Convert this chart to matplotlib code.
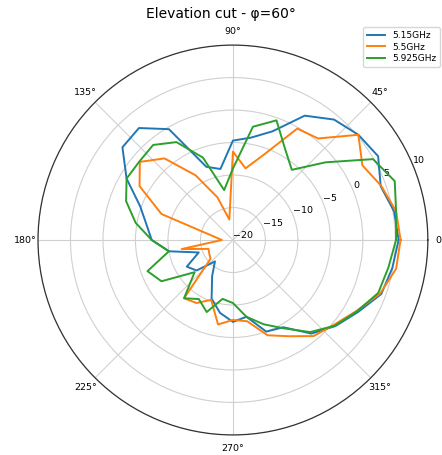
import numpy as np
import matplotlib
matplotlib.use("Agg")
import matplotlib.pyplot as plt

# Elevation cut, 10 degree steps from 0 to 350
angles_deg = list(range(0, 360, 10))

gain_515 = [5.5, 5.2, 4.2, 5.8, 5.2, 4.2, 2.1, -2.2, -4.0, -4.7,
            -8.9, -8.0, -0.3, 2.5, 2.2, -1.1, -4.8, -6.5, -7.5, -10.0,
            -14.4, -11.8, -12.7, -15.7, -13.6, -10.4, -8.6, -7.4, -8.0, -5.0,
            -4.5, -1.2, 0.6, 2.2, 4.3, 4.9]

gain_55 = [5.8, 5.5, 4.3, 3.0, 5.2, 0.4, -0.2, -6.0, -8.8, -6.4,
           -16.8, -13.0, -8.5, -3.6, -1.3, -3.4, -8.3, -17.1, -18.3, -12.0,
           -16.0, -15.8, -15.5, -8.3, -8.8, -10.2, -6.8, -7.7, -7.3, -4.4,
           -2.9, -0.7, 0.3, 1.9, 4.1, 5.5]

gain_5925 = [5.1, 5.5, 6.5, 4.9, -1.4, -5.9, -3.9, -0.4, -2.3, -9.0,
             -12.2, -6.5, -2.6, -0.9, -1.2, -1.1, -2.5, -4.8, -7.5, -10.0,
             -6.0, -7.3, -12.3, -8.3, -9.5, -8.2, -10.8, -10.3, -8.0, -6.2,
             -4.3, -1.5, 0.5, 2.0, 3.8, 4.3]

labels = ["5.15GHz", "5.5GHz", "5.925GHz"]


def closed(values):
    return list(values) + [values[0]]


def main():
    theta = np.deg2rad(closed(angles_deg))

    fig = plt.figure(figsize=(4.42, 4.55), dpi=100)
    ax = fig.add_axes([0.086, 0.044, 0.882, 0.857], projection="polar")

    for series, label in zip([gain_515, gain_55, gain_5925], labels):
        ax.plot(theta, closed(series), linewidth=1.4, label=label)

    ax.set_ylim(-20, 10)
    ax.set_yticks([-20, -15, -10, -5, 0, 5, 10])
    ax.set_rlabel_position(22.5)
    ax.set_thetagrids(range(0, 360, 45))
    ax.tick_params(labelsize=6.8)
    ax.tick_params(axis="x", pad=-1)
    ax.grid(True, color="#d0d0d0", linewidth=0.8)
    ax.spines["polar"].set_color("#333333")
    ax.spines["polar"].set_linewidth(0.9)

    fig.suptitle("Elevation cut - φ=60°", x=0.5, y=0.97, va="center",
                 fontsize=10)
    fig.legend(loc="upper right", bbox_to_anchor=(0.996, 0.94),
               borderaxespad=0, fontsize=6.5, handlelength=2.0,
               borderpad=0.4, labelspacing=0.3)

    fig.savefig("out.png", dpi=100)


if __name__ == "__main__":
    main()
